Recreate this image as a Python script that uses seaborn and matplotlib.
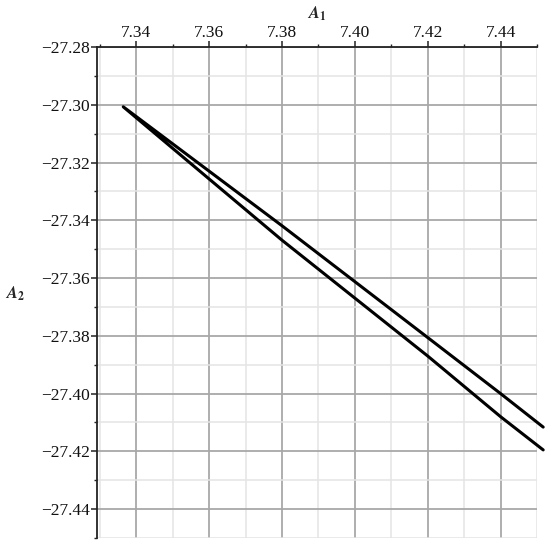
import numpy as np
import matplotlib
matplotlib.use("Agg")
import matplotlib.pyplot as plt
import seaborn as sns
from matplotlib.ticker import MultipleLocator, FuncFormatter

# ─── Data ──────────────────────────────────────────────
upper_a1 = [7.4517, 7.44, 7.42, 7.38, 7.3364]
upper_a2 = [-27.4116, -27.400, -27.3806, -27.3419, -27.3007]
lower_a1 = [7.3364, 7.38, 7.42, 7.44, 7.4517]
lower_a2 = [-27.3007, -27.3469, -27.387, -27.408, -27.4195]

x_ticks = [7.34, 7.36, 7.38, 7.40, 7.42, 7.44]
y_ticks = [-27.28, -27.30, -27.32, -27.34, -27.36, -27.38, -27.40, -27.42, -27.44]

sns.set_style("white")
plt.rcParams["font.family"] = ["Liberation Serif", "DejaVu Serif"]
plt.rcParams["mathtext.fontset"] = "stix"

fig = plt.figure(figsize=(5.5, 5.48), dpi=100)
ax = fig.add_axes([97 / 550, 10 / 548, 440 / 550, 491 / 548])

# one closed-ish path: upper branch in, lower branch out
a1 = upper_a1 + lower_a1
a2 = upper_a2 + lower_a2
sns.lineplot(x=a1, y=a2, sort=False, estimator=None, color="black",
             linewidth=2.2, ax=ax, clip_on=False, zorder=5)

ax.set_xlim(7.3292, 7.45)
ax.set_ylim(-27.45, -27.28)

ax.xaxis.set_minor_locator(MultipleLocator(0.01))
ax.yaxis.set_minor_locator(MultipleLocator(0.01))
ax.set_xticks(x_ticks)
ax.set_yticks(y_ticks)
ax.xaxis.set_major_formatter(FuncFormatter(lambda v, p: f"{v:.2f}"))
ax.yaxis.set_major_formatter(FuncFormatter(lambda v, p: f"{v:.2f}".replace("-", "\u2212")))

ax.grid(which="major", color="#a8a8a8", linewidth=1.3)
ax.grid(which="minor", color="#e4e4e4", linewidth=1.1)
ax.set_axisbelow(True)

for side in ["right", "bottom"]:
    ax.spines[side].set_visible(False)
for side in ["top", "left"]:
    ax.spines[side].set_visible(True)
    ax.spines[side].set_color("#222222")
    ax.spines[side].set_linewidth(1.3)

ax.xaxis.tick_top()
ax.tick_params(axis="both", which="major", length=4.3, width=1.1, color="#222222",
               labelsize=12.5, labelcolor="#111111")
ax.tick_params(axis="both", which="minor", length=2.2, width=1.0, color="#222222")
ax.tick_params(axis="x", which="both", top=True, bottom=False, pad=0.3)
ax.tick_params(axis="y", which="both", left=True, right=False, pad=0.8)

ax.set_xlabel("")
ax.set_ylabel("")
fig.text(317 / 550, 1 - 14 / 548, r"$\boldsymbol{A}_{\mathbf{1}}$", ha="center",
         va="center", fontsize=12)
fig.text(15 / 550, 1 - 294 / 548, r"$\boldsymbol{A}_{\mathbf{2}}$", ha="center",
         va="center", fontsize=12)

fig.savefig("out.png", dpi=100)
